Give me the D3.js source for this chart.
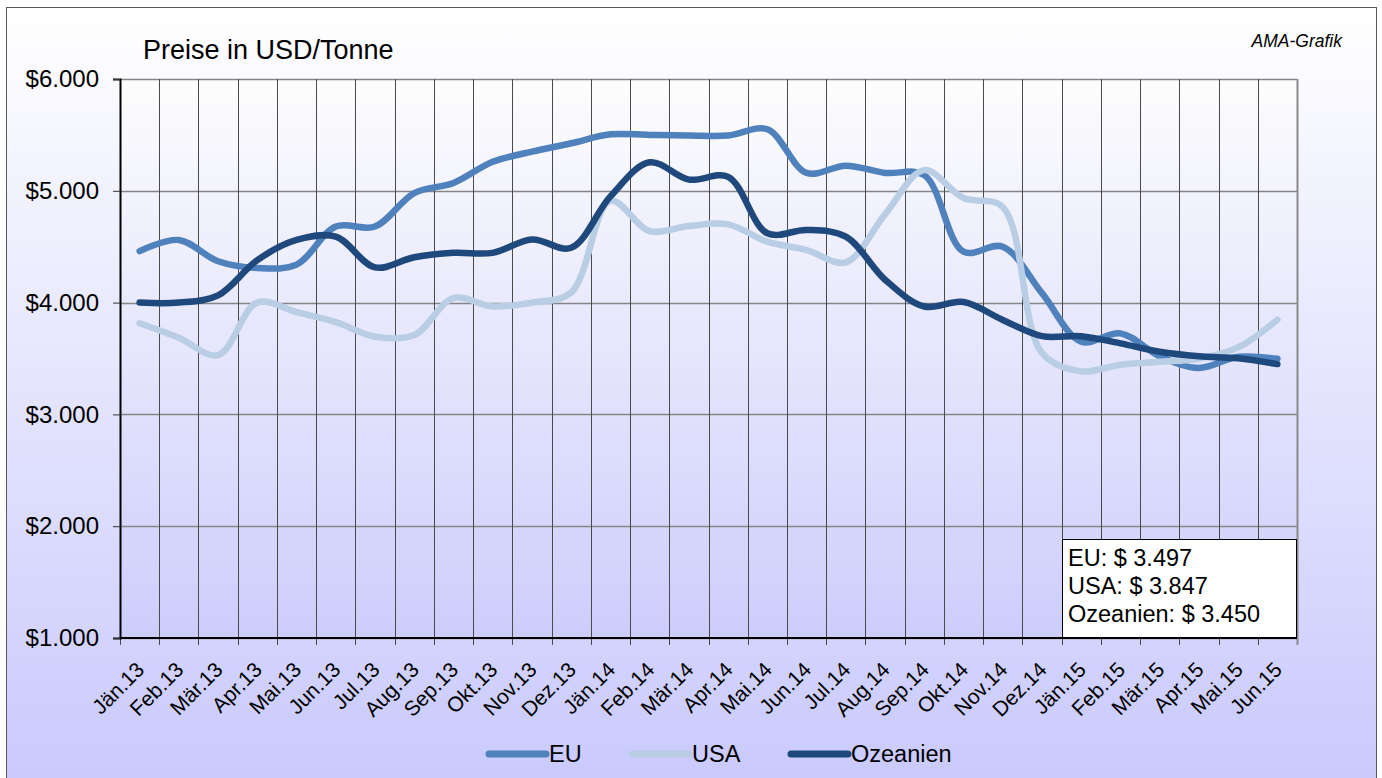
<!DOCTYPE html>
<html>
<head>
<meta charset="utf-8">
<script src="https://cdn.jsdelivr.net/npm/d3@7"></script>
<style>
  body { margin: 0; background: #fff; }
  text { font-family: "Liberation Sans", Arial, sans-serif; }
</style>
</head>
<body>
<div id="mychart"></div>
<script>
// Preise in USD/Tonne, monthly, Jän.13 - Jun.15

const months = ["Jän.13","Feb.13","Mär.13","Apr.13","Mai.13","Jun.13","Jul.13","Aug.13","Sep.13","Okt.13","Nov.13","Dez.13",
  "Jän.14","Feb.14","Mär.14","Apr.14","Mai.14","Jun.14","Jul.14","Aug.14","Sep.14","Okt.14","Nov.14","Dez.14",
  "Jän.15","Feb.15","Mär.15","Apr.15","Mai.15","Jun.15"]

const eu = [4460, 4560, 4370, 4310, 4340, 4680, 4680, 4980, 5070, 5260, 5350, 5425,
  5505, 5500, 5495, 5495, 5550, 5160, 5225, 5160, 5140, 4455, 4500, 4085,
  3650, 3725, 3520, 3415, 3515, 3497]
const usa = [3815, 3685, 3530, 4000, 3915, 3825, 3695, 3710, 4040, 3965, 4000, 4090,
  4910, 4640, 4685, 4700, 4545, 4470, 4360, 4790, 5185, 4935, 4855, 3550,
  3385, 3445, 3470, 3500, 3600, 3847]
const oze = [4000, 4000, 4065, 4380, 4560, 4590, 4315, 4405, 4445, 4445, 4565, 4490,
  4950, 5255, 5100, 5125, 4620, 4650, 4590, 4205, 3965, 4005, 3845, 3700,
  3700, 3635, 3560, 3520, 3502, 3450]

const seriesNames = ["EU", "USA", "Ozeanien"]
const seriesColors = ["#4f81bd", "#b9cde5", "#1f497d"]
const seriesValues = [eu, usa, oze]

const yTicks = [1000, 2000, 3000, 4000, 5000, 6000]
const boxLines = ["EU: $ 3.497", "USA: $ 3.847", "Ozeanien: $ 3.450"]

const chartWidth = 1382
const chartHeight = 778

// plot area
const marginLeft = 120
const marginRight = 1297
const marginTop = 79
const marginBottom = 638

const xScale = d3.scaleBand(months, [marginLeft, marginRight])
const yScale = d3.scaleLinear([1000, 6000], [marginBottom, marginTop])
const cx = (i) => xScale(months[i]) + xScale.bandwidth() / 2

const svg = d3.select("#mychart")
  .append("svg")
  .attr("width", chartWidth)
  .attr("height", chartHeight)

const defs = svg.append("defs")
const g1 = defs.append("linearGradient").attr("id", "bgOuter").attr("x1", 0).attr("y1", 0).attr("x2", 0).attr("y2", 1)
g1.append("stop").attr("offset", "0%").attr("stop-color", "#ffffff")
g1.append("stop").attr("offset", "100%").attr("stop-color", "#c9c9fd")
const g2 = defs.append("linearGradient").attr("id", "bgPlot").attr("x1", 0).attr("y1", 0).attr("x2", 0).attr("y2", 1)
g2.append("stop").attr("offset", "0%").attr("stop-color", "#fdfdfd")
g2.append("stop").attr("offset", "100%").attr("stop-color", "#cdcdfc")

// outer frame
svg.append("rect")
  .attr("x", 6.5).attr("y", 7.5)
  .attr("width", 1370).attr("height", 780)
  .attr("fill", "url(#bgOuter)")
  .attr("stroke", "#595959")

// plot area
svg.append("rect")
  .attr("x", marginLeft).attr("y", marginTop)
  .attr("width", marginRight - marginLeft).attr("height", marginBottom - marginTop)
  .attr("fill", "url(#bgPlot)")

// horizontal gridlines
svg.append("g")
  .selectAll("line")
  .data(yTicks)
  .join("line")
  .attr("x1", marginLeft).attr("x2", marginRight)
  .attr("y1", d => Math.round(yScale(d)) + 0.5).attr("y2", d => Math.round(yScale(d)) + 0.5)
  .attr("stroke", "#858585")
  .attr("stroke-width", 1.3)

// vertical gridlines at category boundaries (extend below axis as tick marks)
const bounds = months.map(m => xScale(m)).concat([marginRight])
svg.append("g")
  .selectAll("line")
  .data(bounds)
  .join("line")
  .attr("x1", d => Math.round(d) + 0.5).attr("x2", d => Math.round(d) + 0.5)
  .attr("y1", marginTop).attr("y2", marginBottom + 7)
  .attr("stroke", (d, i) => i === bounds.length - 1 ? "#8a8a8a" : "#4a4a4a")
  .attr("stroke-width", (d, i) => i === bounds.length - 1 ? 2 : 1)

// y axis
const yAxis = d3.axisLeft(yScale)
  .tickValues(yTicks)
  .tickSize(7)
  .tickPadding(14)
  .tickFormat(d => "$" + d3.format(",")(d).replace(",", "."))

svg.append("g")
  .attr("transform", `translate(${marginLeft},0)`)
  .call(yAxis)
  .call(g => g.select(".domain").attr("stroke", "#000").attr("stroke-width", 2))
  .call(g => g.selectAll(".tick line").attr("stroke", "#333"))
  .call(g => g.selectAll(".tick text").attr("font-size", "24px").attr("fill", "#000")
    .attr("font-family", "'Liberation Sans', Arial, sans-serif"))

// x axis line
svg.append("line")
  .attr("x1", marginLeft).attr("x2", marginRight)
  .attr("y1", marginBottom).attr("y2", marginBottom)
  .attr("stroke", "#000").attr("stroke-width", 2)

// x labels
svg.append("g")
  .selectAll("text")
  .data(months)
  .join("text")
  .attr("transform", (d, i) => `translate(${cx(i) + 6},${marginBottom + 33}) rotate(-45)`)
  .attr("text-anchor", "end")
  .attr("font-size", "21px")
  .attr("fill", "#000")
  .text(d => d)

// lines
const line = d3.line()
  .x((d, i) => cx(i))
  .y(d => yScale(d))
  .curve(d3.curveCatmullRom.alpha(0.5))

svg.append("g")
  .selectAll("path")
  .data(seriesValues)
  .join("path")
  .attr("d", d => line(d))
  .attr("fill", "none")
  .attr("stroke", (d, i) => seriesColors[i])
  .attr("stroke-width", 6.5)
  .attr("stroke-linecap", "round")
  .attr("stroke-linejoin", "round")

// title
svg.append("text")
  .attr("x", 143).attr("y", 59)
  .attr("font-size", "27px")
  .text("Preise in USD/Tonne")

svg.append("text")
  .attr("x", 1342).attr("y", 47)
  .attr("text-anchor", "end")
  .attr("font-size", "17.5px")
  .attr("font-style", "italic")
  .text("AMA-Grafik")

// value box
svg.append("rect")
  .attr("x", 1062.5).attr("y", 539.5)
  .attr("width", 234).attr("height", 98)
  .attr("fill", "#fff")
  .attr("stroke", "#000")
svg.append("g")
  .selectAll("text")
  .data(boxLines)
  .join("text")
  .attr("x", 1068)
  .attr("y", (d, i) => 566 + i * 28)
  .attr("font-size", "23.5px")
  .text(d => d)

// legend
const legendX = [489, 632, 791]
const legend = svg.append("g")
  .selectAll("g")
  .data(seriesNames)
  .join("g")
  .attr("transform", (d, i) => `translate(${legendX[i]},754)`)
legend.append("line")
  .attr("x1", 0).attr("x2", 57)
  .attr("stroke", (d, i) => seriesColors[i])
  .attr("stroke-width", 7)
  .attr("stroke-linecap", "round")
legend.append("text")
  .attr("x", 60).attr("y", 8)
  .attr("font-size", "23.5px")
  .text(d => d)
</script>
</body>
</html>
